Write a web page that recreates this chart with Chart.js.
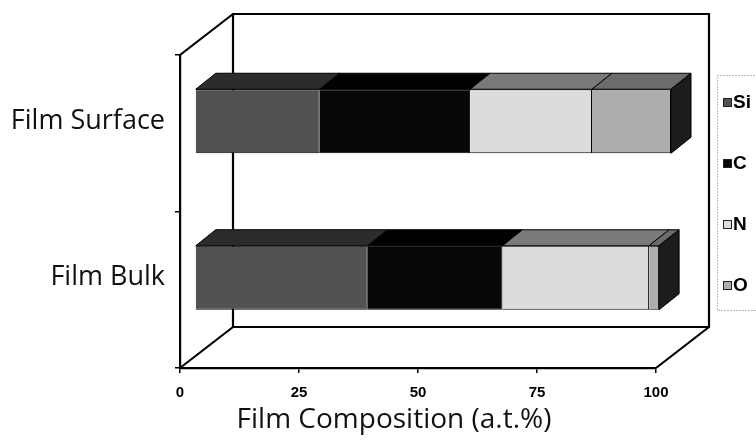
<!DOCTYPE html>
<html><head><meta charset="utf-8">
<script src="https://cdn.jsdelivr.net/npm/chart.js@4.4.1/dist/chart.umd.min.js"></script>
<style>html,body{margin:0;padding:0;background:#fff;}#wrap{width:756px;height:440px;position:relative}</style>
</head><body><div id="wrap"><canvas id="c" width="756" height="440"></canvas></div>
<script>
const categories = ['Film Surface', 'Film Bulk'];
const seriesNames = ['Si', 'C', 'N', 'O'];
const siValues = [26.2, 36.3];
const cValues = [31.6, 28.3];
const nValues = [25.6, 30.8];
const oValues = [16.6, 2.1];
const xTicks = [0, 25, 50, 75, 100];
const xTitle = 'Film Composition (a.t.%)';

const frontColors = ['#525252', '#070707', '#dcdcdc', '#adadad'];
const topColors = ['#2c2c2c', '#000000', '#7a7a7a', '#6c6c6c'];
const sideColor = '#1c1c1c';
const FRONT = {dx: 15, dy: -12};
const DEPTH = {dx: 20, dy: -16};
const WALL = {dx: 53, dy: -41};

const seriesValues = [siValues, cValues, nValues, oValues];

function poly(ctx, pts, fill) {
  ctx.beginPath();
  ctx.moveTo(pts[0][0], pts[0][1]);
  for (let i = 1; i < pts.length; i++) ctx.lineTo(pts[i][0], pts[i][1]);
  ctx.closePath();
  ctx.fillStyle = fill; ctx.fill();
  ctx.strokeStyle = '#000'; ctx.lineWidth = 1; ctx.stroke();
}

const threeD = {
  id: 'threeD',
  beforeDatasetsDraw(chart) {
    const {ctx, chartArea: a, scales: {x}} = chart;
    const L = x.getPixelForValue(xTicks[0]), R = x.getPixelForValue(xTicks[xTicks.length - 1]);
    const T = a.top, B = a.bottom;
    ctx.save();
    ctx.strokeStyle = '#000'; ctx.lineWidth = 2.2; ctx.lineJoin = 'miter';
    ctx.beginPath();
    ctx.moveTo(L, T); ctx.lineTo(L + WALL.dx, T + WALL.dy);
    ctx.lineTo(R + WALL.dx, T + WALL.dy);
    ctx.lineTo(R + WALL.dx, B + WALL.dy);
    ctx.lineTo(L + WALL.dx, B + WALL.dy);
    ctx.lineTo(L + WALL.dx, T + WALL.dy);
    ctx.moveTo(L, B); ctx.lineTo(L + WALL.dx, B + WALL.dy);
    ctx.moveTo(R, B); ctx.lineTo(R + WALL.dx, B + WALL.dy);
    ctx.stroke();
    ctx.restore();

    ctx.save();
    ctx.translate(FRONT.dx, FRONT.dy);
    const n = chart.data.datasets.length;
    for (let j = 0; j < categories.length; j++) {
      let lastEl = null;
      for (let i = 0; i < n; i++) {
        const el = chart.getDatasetMeta(i).data[j];
        if (!el) continue;
        const left = Math.min(el.base, el.x), right = Math.max(el.base, el.x);
        if (right - left <= 0) continue;
        const top = el.y - el.height / 2;
        poly(ctx, [[left, top], [right, top], [right + DEPTH.dx, top + DEPTH.dy], [left + DEPTH.dx, top + DEPTH.dy]], topColors[i]);
        lastEl = el;
      }
      if (lastEl) {
        const right = Math.max(lastEl.base, lastEl.x);
        const top = lastEl.y - lastEl.height / 2, bot = lastEl.y + lastEl.height / 2;
        poly(ctx, [[right, top], [right + DEPTH.dx, top + DEPTH.dy], [right + DEPTH.dx, bot + DEPTH.dy], [right, bot]], sideColor);
      }
    }
  },
  afterDatasetsDraw(chart) { chart.ctx.restore(); },
  afterDraw(chart) {
    const {ctx, chartArea: a} = chart;
    ctx.save();
    // axis title
    ctx.fillStyle = '#111';
    ctx.font = '28px "Open Sans"';
    ctx.textAlign = 'center'; ctx.textBaseline = 'middle';
    ctx.fillText(xTitle, 394, 420);
    // legend
    const bx = a.right + WALL.dx + 8, by = 75;
    ctx.strokeStyle = '#777'; ctx.lineWidth = 1; ctx.setLineDash([1, 2]);
    ctx.strokeRect(bx + 0.5, by + 0.5, 80, 235);
    ctx.setLineDash([]);
    ctx.font = 'bold 19px "Liberation Sans"';
    ctx.textAlign = 'left'; ctx.textBaseline = 'middle';
    chart.data.datasets.forEach((ds, k) => {
      const yy = by + 27 + k * 61;
      ctx.fillStyle = ds.backgroundColor;
      ctx.fillRect(bx + 6, yy - 4, 9, 9);
      ctx.strokeStyle = '#222'; ctx.strokeRect(bx + 6.5, yy - 3.5, 8, 8);
      ctx.fillStyle = '#000';
      ctx.fillText(ds.label, bx + 16, yy + 1);
    });
    ctx.restore();
  }
};

new Chart(document.getElementById('c'), {
  type: 'bar',
  data: {
    labels: categories,
    datasets: seriesNames.map((name, i) => ({
      label: name,
      data: seriesValues[i],
      backgroundColor: frontColors[i],
      borderColor: '#000',
      borderWidth: 1,
      barPercentage: 0.409,
      categoryPercentage: 1
    }))
  },
  options: {
    indexAxis: 'y',
    responsive: false,
    animation: false,
    layout: {padding: {top: 55, right: 100, left: 0, bottom: 0}},
    plugins: {legend: {display: false}, tooltip: {enabled: false}},
    scales: {
      x: {
        stacked: true, min: 0, max: 100,
        afterBuildTicks: (s) => { s.ticks = xTicks.map(v => ({value: v})); },
        afterFit: (s) => { s.height = 72; },
        grid: {drawOnChartArea: false, drawTicks: true, tickLength: 5, color: '#000', lineWidth: 1.5},
        border: {display: true, color: '#000', width: 2.2},
        ticks: {color: '#000', padding: 11, font: {family: 'Liberation Sans', size: 15, weight: 'bold'}, maxRotation: 0}
      },
      y: {
        stacked: true,
        afterFit: (s) => { s.width = 180; },
        grid: {drawOnChartArea: false, drawTicks: true, tickLength: 5, color: '#000', lineWidth: 1.5, offset: true},
        border: {display: true, color: '#000', width: 2.2},
        ticks: {color: '#111', padding: 10, labelOffset: -12, font: {family: 'Open Sans', size: 27}}
      }
    }
  },
  plugins: [threeD]
});
</script></body></html>
